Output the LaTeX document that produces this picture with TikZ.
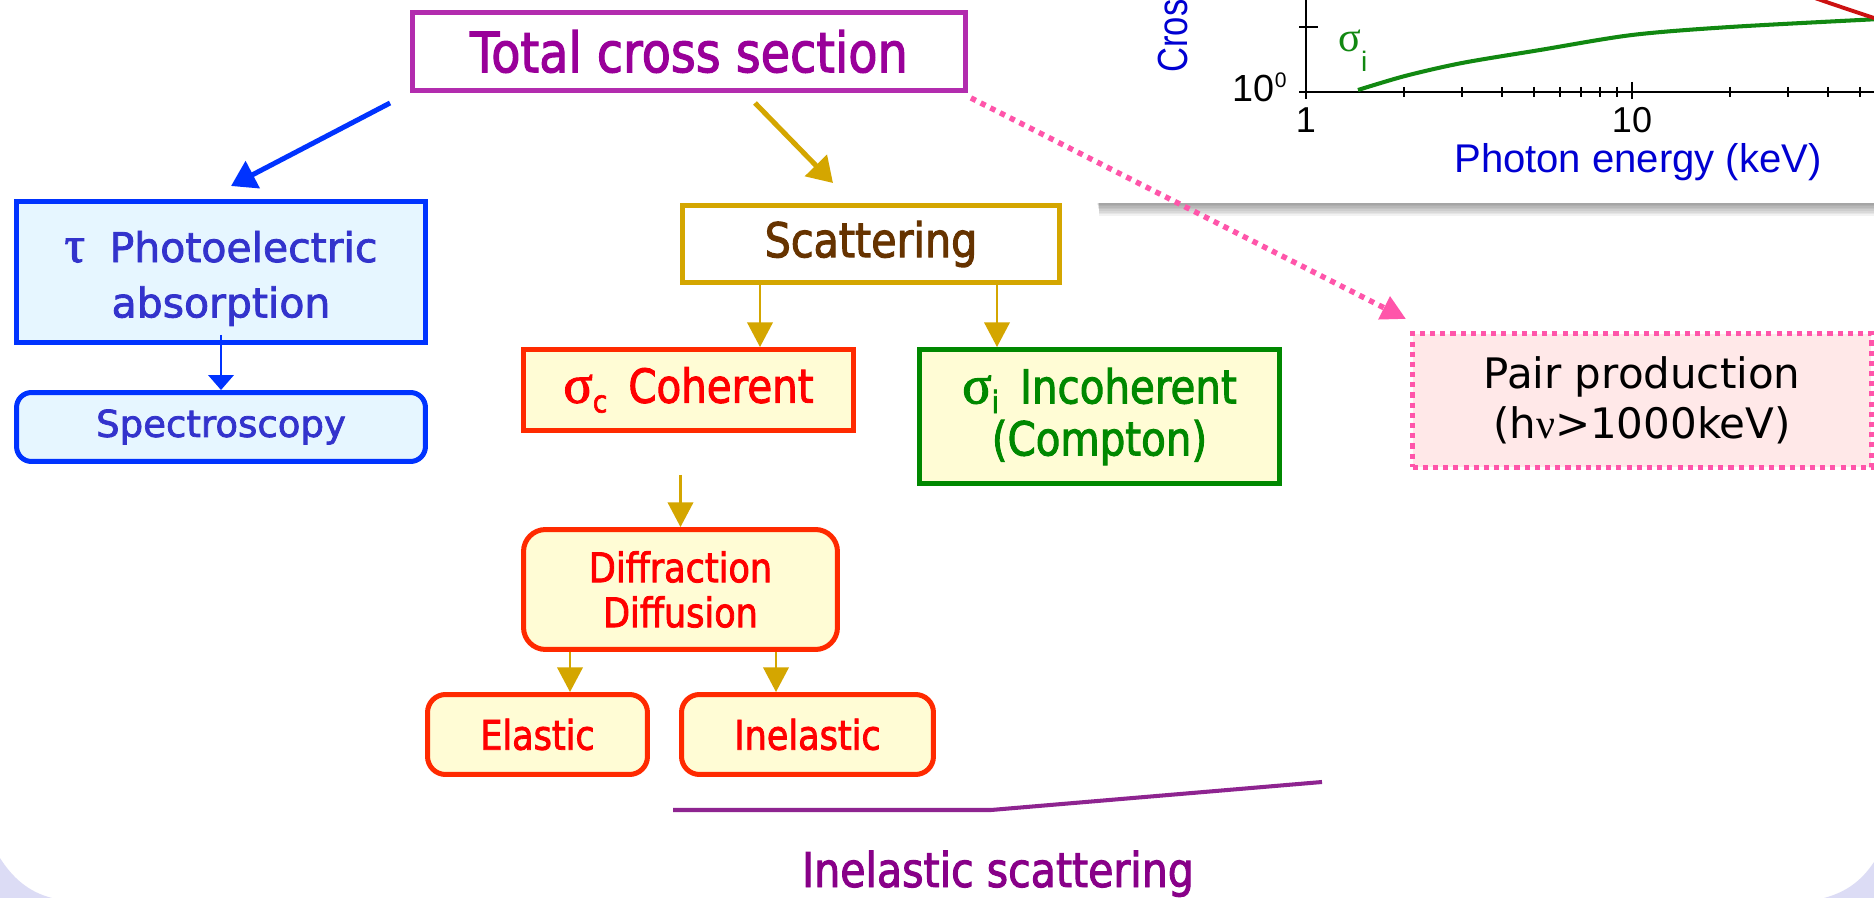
\documentclass[tikz,border=0pt]{standalone}
\usepackage{fontspec}
\setmainfont{DejaVu Sans}
\newfontfamily\cond[FakeStretch=0.86,FakeBold=2]{DejaVu Sans}
\newfontfamily\medf[FakeBold=2]{DejaVu Sans}
\newfontfamily\arialf{Liberation Sans}
\newfontfamily\arialn[FakeStretch=0.82]{Liberation Sans}
\newfontfamily\grk{Liberation Serif}
\newfontfamily\grkb[FakeBold=2]{Liberation Serif}
\usetikzlibrary{arrows.meta,calc}
\definecolor{totB}{RGB}{178,44,174}
\definecolor{totT}{RGB}{153,0,153}
\definecolor{bluB}{RGB}{0,51,255}
\definecolor{bluT}{RGB}{51,51,204}
\definecolor{bluF}{RGB}{230,246,255}
\definecolor{golB}{RGB}{212,166,0}
\definecolor{scaT}{RGB}{102,51,0}
\definecolor{redB}{RGB}{255,42,0}
\definecolor{redT}{RGB}{255,0,0}
\definecolor{yelF}{RGB}{255,252,213}
\definecolor{grnB}{RGB}{0,136,0}
\definecolor{pnkB}{RGB}{255,85,170}
\definecolor{pnkF}{RGB}{255,232,232}
\definecolor{purL}{RGB}{142,36,144}
\definecolor{purT}{RGB}{136,0,136}
\definecolor{plotB}{RGB}{0,0,210}
\definecolor{grnC}{RGB}{17,136,17}
\definecolor{redC}{RGB}{204,17,17}
\definecolor{lav}{RGB}{220,220,245}
\newcommand\sig[1]{{\grkb\fontsize{31pt}{31pt}\selectfont σ}\raisebox{-5.5pt}{\fontsize{17.5pt}{17.5pt}\selectfont #1}}
\begin{document}
\begin{tikzpicture}[x=0.02cm,y=-0.02cm,
  box/.style={draw,line width=2.85pt,inner sep=0pt,align=center},
  bigarrow/.style={line width=2.85pt,-{Triangle[width=17pt,length=14pt]}},
  thinarrow/.style={line width=1.2pt,-{Triangle[width=14.5pt,length=14pt]}},
  axisline/.style={line width=1.1pt,black},
  plotlabel/.style={font=\arialf\fontsize{20.5pt}{24pt}\selectfont,inner sep=0pt}]
\useasboundingbox (0,0) rectangle (1874,898);
\clip (0,0) rectangle (1874,898);
\fill[white] (0,0) rectangle (1874,898);
% lavender corners of the slide background
\fill[lav] (0,858) .. controls (12,877) and (28,892) .. (52,898) -- (0,898) -- cycle;
\fill[lav] (1874,862) .. controls (1862,880) and (1847,892) .. (1824,898) -- (1874,898) -- cycle;
% plot panel with shadow
\foreach \i in {1,...,8} \fill[black,opacity=0.05] (1097+0.3*\i,-20) rectangle (1890,203+1.6*\i);
\fill[white] (1097,-20) rectangle (1890,203);
\draw[axisline] (1306,-10) -- (1306,92);
\draw[axisline] (1299,92) -- (1890,92);
\draw[axisline] (1299,27) -- (1318,27);
\foreach \x in {1404,1462,1502,1534,1560,1581,1600,1617,1730,1788,1828,1860} \draw[axisline] (\x,87) -- (\x,97);
\draw[axisline] (1306,92) -- (1306,99);
\draw[axisline] (1632,82) -- (1632,99);
\draw[line width=2.3pt,grnC] plot[smooth] coordinates {(1358,90) (1405,76) (1462,63) (1540,50) (1632,35) (1730,27) (1880,19)};
\draw[line width=2.2pt,redC] (1812,-3) .. controls (1835,5) .. (1880,20);
\node[plotlabel,anchor=base] (t1) at (1306,133) {1};
\node[plotlabel,anchor=base] (t10) at (1632,133) {10};
\node[plotlabel,anchor=base east,font=\arialf\fontsize{21.5pt}{24pt}\selectfont] (y0) at (1287,102) {10\raisebox{8pt}{\fontsize{12pt}{12pt}\selectfont 0}};
\node[plotlabel,anchor=base,text=plotB,font=\arialf\fontsize{22.8pt}{26pt}\selectfont] (xlab) at (1638,173) {Photon energy (keV)};
\node[plotlabel,anchor=base west,rotate=90,text=plotB,font=\arialn\fontsize{24pt}{28pt}\selectfont] (ylab) at (1187,73) {Cros};
\node[plotlabel,anchor=base west,text=grnC] (sigi) at (1338,52) {{\grk\fontsize{24pt}{24pt}\selectfont σ}\raisebox{-11pt}{\fontsize{16pt}{16pt}\selectfont i}};
% boxes
\node[box,draw=totB,fill=white,minimum width=11.06cm,minimum height=1.56cm,text=totT,font=\cond\fontsize{31.6pt}{36pt}\selectfont] (tot) at (689,51.5) {Total cross section};
\node[box,draw=bluB,fill=bluF,minimum width=8.18cm,minimum height=2.82cm,text=bluT,font=\medf\fontsize{23.3pt}{31.5pt}\selectfont] (pho) at (221,272) {\rule{0pt}{25pt}{\grkb\fontsize{29pt}{29pt}\selectfont τ}\hspace{14pt}Photoelectric\\absorption};
\node[box,draw=bluB,fill=bluF,rounded corners=0.3cm,minimum width=8.18cm,minimum height=1.38cm,text=bluT,font=\medf\fontsize{21.1pt}{25pt}\selectfont] (spe) at (221,427) {Spectroscopy};
\node[box,draw=golB,fill=white,minimum width=7.54cm,minimum height=1.54cm,text=scaT,font=\cond\fontsize{27.3pt}{32pt}\selectfont] (sca) at (871,244) {Scattering};
\node[box,draw=redB,fill=yelF,minimum width=6.6cm,minimum height=1.62cm,text=redT,font=\cond\fontsize{26.7pt}{32pt}\selectfont] (coh) at (688.5,390) {\sig{c}\hspace{12pt}Coherent};
\node[box,draw=grnB,fill=yelF,minimum width=7.2cm,minimum height=2.68cm,text=grnB,font=\cond\fontsize{26.7pt}{29.6pt}\selectfont] (inc) at (1099.5,416.5) {\sig{i}\hspace{12pt}Incoherent\\(Compton)};
\node[box,draw=redB,fill=yelF,rounded corners=0.44cm,minimum width=6.28cm,minimum height=2.4cm,text=redT,font=\cond\fontsize{23.2pt}{25.6pt}\selectfont] (dif) at (680.5,589.5) {Diffraction\\Diffusion};
\node[box,draw=redB,fill=yelF,rounded corners=0.36cm,minimum width=4.4cm,minimum height=1.6cm,text=redT,font=\cond\fontsize{23.2pt}{26pt}\selectfont] (ela) at (537.5,734.5) {Elastic};
\node[box,draw=redB,fill=yelF,rounded corners=0.36cm,minimum width=5.04cm,minimum height=1.6cm,text=redT,font=\cond\fontsize{23.2pt}{26pt}\selectfont] (ine) at (807.5,734.5) {Inelastic};
\node[box,draw=pnkB,fill=pnkF,line width=2.9pt,dash pattern=on 2.9pt off 2.9pt,minimum width=9.18cm,minimum height=2.68cm,text=black,font=\fontsize{23.9pt}{28.5pt}\selectfont] (pair) at (1642,400.5) {Pair production\\(h{\grk ν}>1000keV)};
% connectors
\draw[bigarrow,bluB] ($(tot.south west)+(-20,10)$) -- ($(pho.north)+(10,-13)$);
\draw[bigarrow,golB] ($(tot.south)+(66,10)$) -- ($(sca.north)+(-38,-20)$);
\draw[line width=3.1pt,pnkB,dash pattern=on 3.1pt off 3.1pt,-{Triangle[width=14pt,length=14pt]}] ($(tot.south east)+(3,5)$) -- ($(pair.north west)+(-4,-12)$);
\coordinate (c1) at ($(coh.north)+(71.5,0)$);
\draw[thinarrow,golB] (c1 |- sca.south) -- (c1);
\coordinate (c2) at ($(inc.north)+(-102.5,0)$);
\draw[thinarrow,golB] (c2 |- sca.south) -- (c2);
\coordinate (c3) at ($(coh.south)+(0,42)$);
\draw[thinarrow,golB] (dif.north |- c3) -- (dif.north);
\coordinate (c4) at ($(ela.north)+(32.5,0)$);
\draw[thinarrow,golB] (c4 |- dif.south) -- (c4);
\coordinate (c5) at ($(ine.north)+(-31.5,0)$);
\draw[thinarrow,golB] (c5 |- dif.south) -- (c5);
\draw[line width=1.2pt,bluB,-{Triangle[width=14.5pt,length=8.5pt]}] ($(pho.south)+(0,-10)$) -- (spe.north);
% inelastic scattering bracket line and label
\coordinate (p1) at (673,810);
\coordinate (p2) at (991,810);
\coordinate (p3) at (1322,782);
\draw[line width=2.3pt,purL] (p1) -- (p2) -- (p3);
\node[inner sep=0pt,anchor=base,text=purT,font=\cond\fontsize{27.2pt}{30pt}\selectfont] (insc) at (998,887) {Inelastic scattering};
\end{tikzpicture}
\end{document}
